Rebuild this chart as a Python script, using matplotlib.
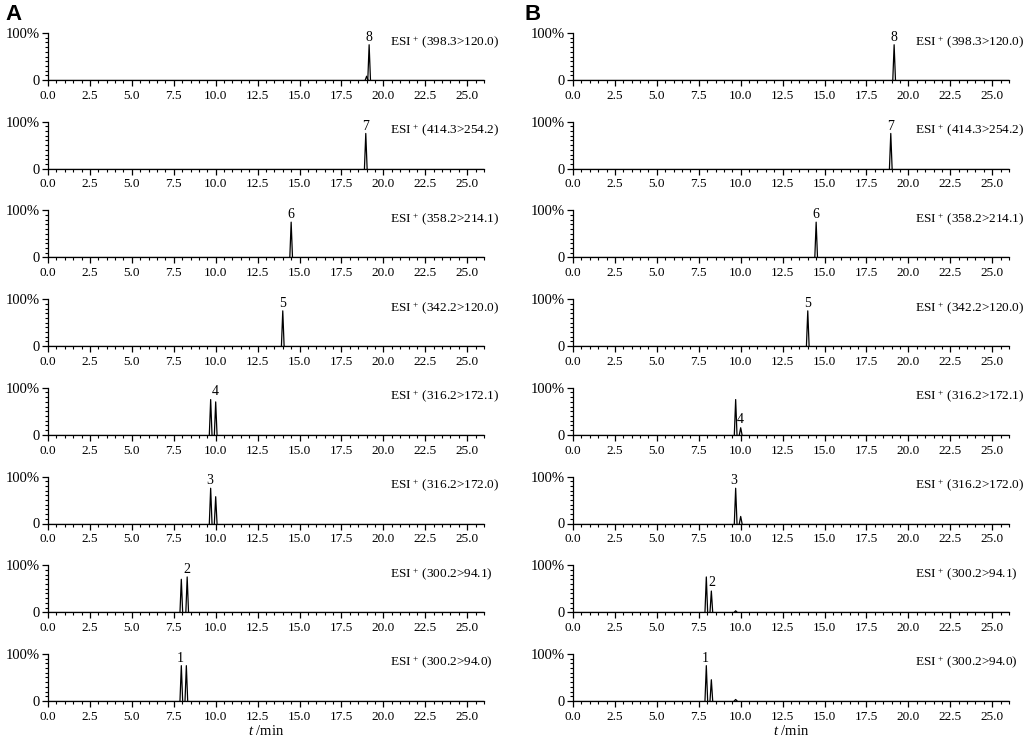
import matplotlib
matplotlib.use("Agg")
import matplotlib.pyplot as plt
from matplotlib.ticker import MultipleLocator

plt.rcParams['font.family'] = ['Liberation Serif', 'DejaVu Serif']
plt.rcParams['mathtext.fontset'] = 'custom'
plt.rcParams['mathtext.rm'] = 'Liberation Serif'
plt.rcParams['mathtext.it'] = 'Liberation Serif:italic'
plt.rcParams['mathtext.default'] = 'regular'

#   Channel labels, top to bottom
transitions = ['398.3>120.0', '414.3>254.2', '358.2>214.1', '342.2>120.0',
               '316.2>172.1', '316.2>172.0', '300.2>94.1', '300.2>94.0']
compound_ids = ['8', '7', '6', '5', '4', '3', '2', '1']

#   Panel A peaks: retention times (min) and heights (%)
peaks_a_rt = [[19.0, 19.15], [18.95], [14.5], [14.0],
              [9.7, 10.0], [9.7, 10.0], [7.95, 8.3], [7.95, 8.25]]
peaks_a_h = [[8, 75], [75], [75], [75],
             [75, 70], [75, 57], [70, 75], [75, 75]]
#   Peak number label positions (rt, height) for A
label_a_x = [19.15, 18.95, 14.5, 14.0, 9.97, 9.62, 8.3, 7.87]
label_a_y = [77, 77, 77, 77, 79, 77, 77, 77]

#   Panel B peaks
peaks_b_rt = [[19.15], [18.95], [14.5], [14.0],
              [9.7, 10.0], [9.7, 10.0], [7.95, 8.25, 9.7], [7.95, 8.25, 9.7]]
peaks_b_h = [[75], [75], [75], [75],
             [75, 15], [75, 15], [75, 45, 3], [75, 45, 3]]
label_b_x = [19.15, 18.95, 14.5, 14.0, 9.97, 9.6, 8.3, 7.87]
label_b_y = [77, 77, 77, 77, 18, 77, 50, 77]

x_max = 26.0
half_w = 0.08


def draw_panel(ax, rts, hs, ident, lx, ly, trans):
    #   Baseline then each peak as a narrow spike
    ax.plot([0, x_max], [0, 0], color='black', lw=0.9)
    for rt, h in zip(rts, hs):
        ax.plot([rt - half_w, rt, rt + half_w], [0, h, 0], color='black', lw=0.9)
    ax.text(lx, ly, ident, ha='center', va='bottom', fontsize=10)
    ax.text(0.785, 0.80, 'ESI$^{\\,+}$\u2009(' + trans + ')', transform=ax.transAxes,
            ha='left', va='center', fontsize=9.5)

    ax.set_xlim(0, x_max)
    ax.set_ylim(0, 100)
    ax.spines['top'].set_visible(False)
    ax.spines['right'].set_visible(False)
    ax.spines['left'].set_bounds(0, 100)
    ax.xaxis.set_major_locator(MultipleLocator(2.5))
    ax.xaxis.set_minor_locator(MultipleLocator(0.5))
    ax.set_yticks([0, 100])
    ax.set_yticklabels(['0', '100%'])
    ax.yaxis.set_minor_locator(MultipleLocator(10))
    ax.xaxis.set_major_formatter(plt.FuncFormatter(lambda v, p: f'{v:.1f}'))
    ax.tick_params(axis='both', which='major', length=4, width=0.9, labelsize=9.5, pad=3)
    ax.tick_params(axis='both', which='minor', length=2.5, width=0.8)
    ax.tick_params(axis='y', which='major', pad=2, labelsize=10.5)
    for s in ['left', 'bottom']:
        ax.spines[s].set_linewidth(0.9)


fig = plt.figure(figsize=(10.24, 7.4), dpi=100)
W, H = 1024.0, 740.0
left_x = [48, 573]
ax_w = 436
ax_h = 47
base0 = 80
step = 88.7

for col, (prt, ph, lx, ly) in enumerate([(peaks_a_rt, peaks_a_h, label_a_x, label_a_y),
                                          (peaks_b_rt, peaks_b_h, label_b_x, label_b_y)]):
    for i in range(8):
        yb = base0 + step * i
        ax = fig.add_axes([left_x[col] / W, 1 - yb / H, ax_w / W, ax_h / H])
        draw_panel(ax, prt[i], ph[i], compound_ids[i], lx[i], ly[i], transitions[i])
        if i == 7:
            ax.set_xlabel('$\\mathit{t}$ /min', fontsize=10.5, labelpad=1)

fig.text(5 / W, 1 - 15 / H, 'A', fontsize=16, fontweight='bold',
         family='Liberation Sans', va='center', ha='left')
fig.text(524 / W, 1 - 15 / H, 'B', fontsize=16, fontweight='bold',
         family='Liberation Sans', va='center', ha='left')

fig.savefig('out.png', dpi=100)
